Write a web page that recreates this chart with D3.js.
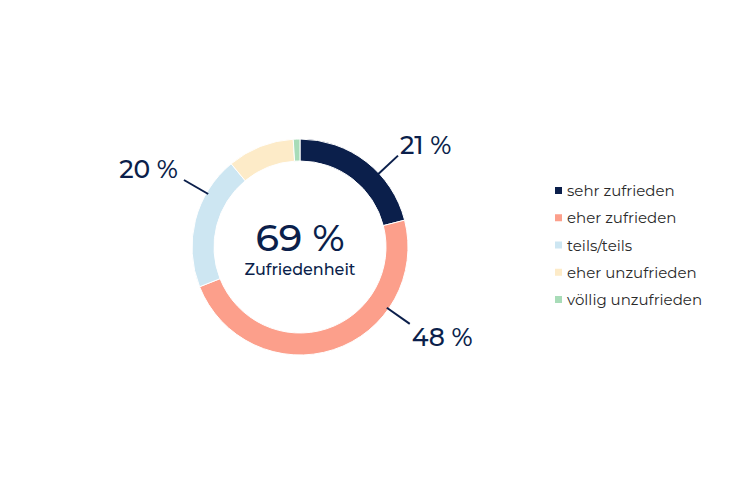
<!DOCTYPE html><html><head><meta charset="utf-8"><script src="https://cdn.jsdelivr.net/npm/d3@7"></script>
<style>body{margin:0;background:#fff}text{font-family:Montserrat,"Open Sans",sans-serif}</style></head><body>
<svg id="c" width="741" height="495"></svg>
<script>
const categories=["sehr zufrieden","eher zufrieden","teils/teils","eher unzufrieden","völlig unzufrieden"];
const values=[21,48,20,10,1];
const colors=["#0b1f4b","#fc9f8b","#cde6f2","#fdebc8","#a8dcb8"];
const labelled=[0,1,2];
const svg=d3.select("#c");
const cx=300,cy=247,R=108,r=86;
const g=svg.append("g").attr("transform",`translate(${cx},${cy})`);
const arcs=d3.pie().sort(null).value(d=>d)(values);
const arc=d3.arc().innerRadius(r).outerRadius(R);
g.selectAll("path").data(arcs).join("path").attr("d",arc).attr("fill",(d,i)=>colors[i]).attr("stroke","#fff").attr("stroke-width",1);
// leader line directions (degrees clockwise from top) and offsets, layout only
const leaderAngle={0:47,1:125,2:-60};
labelled.forEach(i=>{
  const m=leaderAngle[i]*Math.PI/180;
  const sx=Math.sin(m),sy=-Math.cos(m);
  const p1=[sx*(R-2),sy*(R-2)],p2=[sx*(R+26),sy*(R+26)];
  g.append("line").attr("x1",p1[0]).attr("y1",p1[1]).attr("x2",p2[0]).attr("y2",p2[1]).attr("stroke","#0b1f4b").attr("stroke-width",2);
  const right=sx>0;
  g.append("text").attr("x",p2[0]+(right?2:-6)).attr("y",p2[1]+(sy<0?-2:22)).attr("text-anchor",right?"start":"end")
   .attr("font-size",25).attr("font-weight",500).attr("fill","#0b1f4b").text(values[i]+" %");
});
g.append("text").attr("y",4).attr("text-anchor","middle").attr("font-size",38).attr("font-weight",500).attr("fill","#0b1f4b").text((values[0]+values[1])+" %");
g.append("text").attr("y",28).attr("text-anchor","middle").attr("font-size",16).attr("font-weight",500).attr("fill","#0b1f4b").text("Zufriedenheit");
const y=d3.scalePoint().domain(categories).range([191,300]);
const lg=svg.append("g");
categories.forEach((c,i)=>{
  lg.append("rect").attr("x",555).attr("y",y(c)-4).attr("width",7).attr("height",7).attr("fill",colors[i]);
  lg.append("text").attr("x",567).attr("y",y(c)+5).attr("font-size",15).attr("fill","#2a2a2a").text(c);
});
</script></body></html>
